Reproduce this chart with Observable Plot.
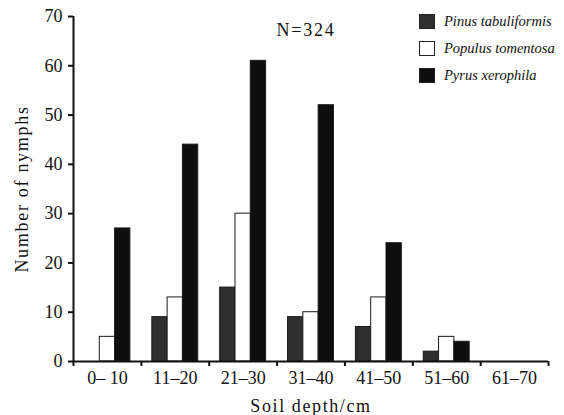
<!DOCTYPE html>
<html>
<head>
<meta charset="utf-8">
<script src="https://cdn.jsdelivr.net/npm/d3@7"></script>
<script src="https://cdn.jsdelivr.net/npm/@observablehq/plot@0.6"></script>
<style>
  html, body { margin: 0; padding: 0; background: #fff; }
  #wrap { position: relative; width: 564px; height: 415px; }
  #legend { position: absolute; left: 419px; top: 8px; font-family: "Liberation Serif", serif; font-style: italic; font-size: 14.5px; color: #111; }
  #legend .row { display: flex; align-items: center; height: 27px; }
  #legend .sw { width: 14px; height: 13px; border: 1px solid #222; margin-right: 9px; }
  g[aria-label="x-axis label"] text { letter-spacing: 1.6px; }
  g[aria-label="y-axis label"] text { letter-spacing: 1.7px; }
  .ntext text { letter-spacing: 1.8px; }
</style>
</head>
<body>
<div id="wrap"><div id="legend"></div></div>
<script>
const categories = ["0\u2013 10", "11\u201320", "21\u201330", "31\u201340", "41\u201350", "51\u201360", "61\u201370"];
const species = ["Pinus tabuliformis", "Populus tomentosa", "Pyrus xerophila"];
const pinus = [0, 9, 15, 9, 7, 2, 0];
const populus = [5, 13, 30, 10, 13, 5, 0];
const pyrus = [27, 44, 61, 52, 24, 4, 0];
const yTicks = [0, 10, 20, 30, 40, 50, 60, 70];
const colors = ["#2f2f2f", "#ffffff", "#0e0e0e"];
const totalLabel = "N=324";

const series = [pinus, populus, pyrus];
const rows = [];
categories.forEach((c, i) => {
  species.forEach((s, j) => {
    rows.push({ i, j, category: c, species: s, value: series[j][i] });
  });
});

// group layout inside each category band (fractions of a band)
const groupFrac = 46 / 68;
const sideFrac = (1 - groupFrac) / 2;
const barFrac = groupFrac / species.length;

const boundaries = d3.range(categories.length + 1);
const centers = d3.range(categories.length).map(i => i + 0.5);

const chart = Plot.plot({
  width: 564,
  height: 415,
  marginLeft: 73,
  marginRight: 16,
  marginTop: 16,
  marginBottom: 54,
  style: { fontFamily: "Liberation Serif, serif", fontSize: "18px", color: "#111", background: "#fff" },
  x: { domain: [0, categories.length] },
  y: { domain: [0, 70] },
  color: { domain: species, range: colors },
  marks: [
    Plot.rectY(rows.filter(d => d.value > 0), {
      x1: d => d.i + sideFrac + d.j * barFrac,
      x2: d => d.i + sideFrac + (d.j + 1) * barFrac,
      y1: 0,
      y2: "value",
      fill: "species",
      stroke: "#1a1a1a",
      strokeWidth: 1
    }),
    Plot.axisY({ ticks: yTicks, tickSize: 5, tickPadding: 6, strokeWidth: 2, fontSize: 18, label: "Number of nymphs", labelAnchor: "center", labelOffset: 58, labelArrow: false }),
    Plot.axisX({ ticks: boundaries, tickSize: 5, strokeWidth: 2, tickFormat: () => "", label: null }),
    Plot.axisX({ ticks: centers, tickSize: 0, tickPadding: 10, tickFormat: d => categories[Math.floor(d)], fontSize: 18, label: "Soil depth/cm", labelAnchor: "center", labelOffset: 50, labelArrow: false }),
    Plot.ruleX([0], { y1: 0, y2: 70, stroke: "#111", strokeWidth: 2 }),
    Plot.ruleY([0], { stroke: "#111", strokeWidth: 2 }),
    Plot.text([totalLabel], { frameAnchor: "top", dx: -5, dy: 7, fontSize: 18, fill: "#111", className: "ntext" })
  ]
});

document.getElementById("wrap").prepend(chart);

const legend = document.getElementById("legend");
species.forEach((s, j) => {
  const row = document.createElement("div");
  row.className = "row";
  const sw = document.createElement("div");
  sw.className = "sw";
  sw.style.background = colors[j];
  const t = document.createElement("span");
  t.textContent = s;
  row.appendChild(sw);
  row.appendChild(t);
  legend.appendChild(row);
});
</script>
</body>
</html>
